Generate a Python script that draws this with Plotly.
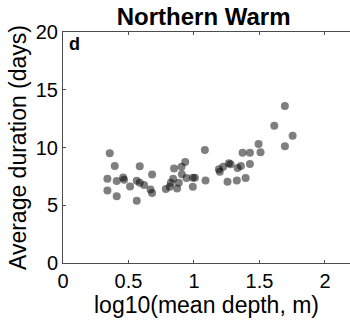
import plotly.graph_objects as go

log_depth = [0.357, 0.395, 0.339, 0.339, 0.410, 0.410, 0.459, 0.466, 0.512, 0.563,
             0.563, 0.586, 0.586, 0.619, 0.668, 0.680, 0.680, 0.785, 0.815, 0.823,
             0.841, 0.848, 0.871, 0.884, 0.905, 0.907, 0.933, 0.943, 0.991, 0.991,
             1.007, 1.083, 1.088, 1.190, 1.197, 1.223, 1.256, 1.266, 1.279, 1.327,
             1.333, 1.358, 1.371, 1.394, 1.427, 1.427, 1.493, 1.508, 1.613, 1.694,
             1.694, 1.753]
avg_duration = [9.50, 8.39, 7.29, 6.28, 5.79, 7.09, 7.41, 7.20, 6.63, 5.38,
                7.12, 8.37, 6.95, 6.75, 6.37, 7.67, 6.05, 6.40, 6.60, 6.95,
                7.29, 8.19, 6.45, 6.95, 8.33, 7.69, 8.74, 7.35, 7.38, 6.60,
                7.38, 9.78, 7.15, 8.11, 7.90, 8.33, 7.03, 8.63, 8.55, 7.15,
                8.22, 8.39, 9.55, 7.35, 8.57, 9.55, 10.30, 9.58, 11.89, 13.60,
                10.10, 11.02]

x_ticks = [0, 0.5, 1, 1.5, 2]
x_ticklabels = ["0", "0.5", "1", "1.5", "2"]
y_ticks = [0, 5, 10, 15, 20]

FONT = "Liberation Sans, Arial, sans-serif"
AX = "#4d4d4d"

fig = go.Figure(go.Scatter(
    x=log_depth, y=avg_duration, mode="markers",
    marker=dict(size=8, color="rgba(0,0,0,0.5)", line=dict(width=0)),
))

fig.update_layout(
    width=350, height=324,
    margin=dict(l=63, r=0, t=32, b=61),
    paper_bgcolor="white", plot_bgcolor="white",
    showlegend=False,
    font=dict(family=FONT, color="black"),
    title=dict(text="<b>Northern Warm</b>", xref="paper", x=0.49, xanchor="center",
               yref="container", y=1 - 17 / 324, yanchor="middle",
               font=dict(size=24, family=FONT, color="black")),
    annotations=[dict(text="<b>d</b>", xref="paper", yref="paper",
                      x=0.015, y=0.95, xanchor="left", yanchor="middle",
                      showarrow=False, font=dict(size=18, family=FONT, color="black"))],
)

fig.update_xaxes(
    range=[0, 2.191], tickvals=x_ticks, ticktext=x_ticklabels,
    showgrid=False, zeroline=False,
    showline=True, linecolor=AX, linewidth=1, mirror="ticks",
    ticks="inside", ticklen=3, tickcolor=AX, tickwidth=1,
    tickfont=dict(size=20, family=FONT, color="black"),
    title=dict(text="log10(mean depth, m)", font=dict(size=23, family=FONT, color="black"),
               standoff=4),
)
fig.update_yaxes(
    range=[0, 20], tickvals=y_ticks,
    showgrid=False, zeroline=False,
    showline=True, linecolor=AX, linewidth=1, mirror=False,
    ticks="inside", ticklen=3, tickcolor=AX, tickwidth=1,
    tickfont=dict(size=20, family=FONT, color="black"),
    title=dict(text="Average duration (days)", font=dict(size=23, family=FONT, color="black"),
               standoff=2),
)

fig.write_html("out.html")
